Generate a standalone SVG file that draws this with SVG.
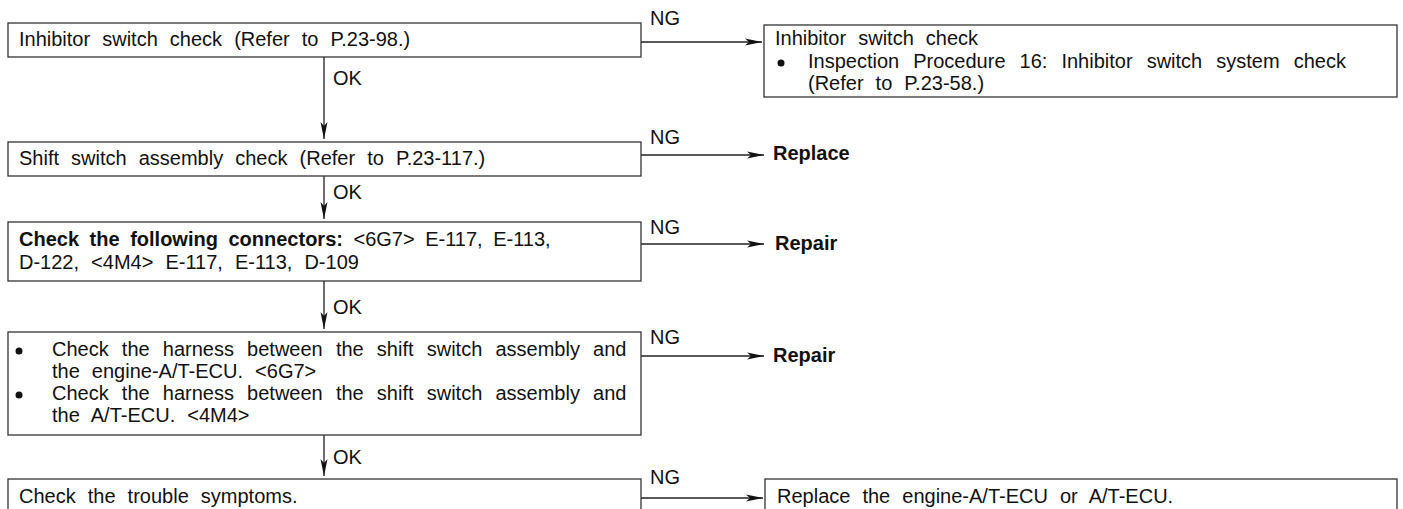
<svg xmlns="http://www.w3.org/2000/svg" width="1403" height="509" viewBox="0 0 1403 509">
<defs>
<marker id="ah" markerWidth="18" markerHeight="10" refX="17" refY="5" orient="auto" markerUnits="userSpaceOnUse">
<path d="M0,1.5 L17,5 L0,8.5 L4,5 Z" fill="#111"/>
</marker>
<style>
.box{fill:#fff;stroke:#333;stroke-width:1.3}
.t{font-family:"Liberation Sans",Arial,sans-serif;font-size:20px;fill:#111;word-spacing:6.5px}
.b{font-weight:bold}
.c{stroke:#222;stroke-width:1.3;fill:none}
.dot{fill:#111}
</style>
</defs>
<rect width="1403" height="509" fill="#fff"/>
<g id="connectors">
<path class="c" d="M324,57 V139" marker-end="url(#ah)"/>
<path class="c" d="M324,176 V219" marker-end="url(#ah)"/>
<path class="c" d="M324,281 V329" marker-end="url(#ah)"/>
<path class="c" d="M324,435 V476" marker-end="url(#ah)"/>
<path class="c" d="M641,42 H762" marker-end="url(#ah)"/>
<path class="c" d="M641,155 H764" marker-end="url(#ah)"/>
<path class="c" d="M641,244 H764" marker-end="url(#ah)"/>
<path class="c" d="M641,356 H764" marker-end="url(#ah)"/>
<path class="c" d="M641,498 H763" marker-end="url(#ah)"/>
<text class="t" x="333" y="85">OK</text>
<text class="t" x="333" y="199">OK</text>
<text class="t" x="333" y="314">OK</text>
<text class="t" x="333" y="464">OK</text>
<text class="t" x="650" y="25">NG</text>
<text class="t" x="650" y="144">NG</text>
<text class="t" x="650" y="234">NG</text>
<text class="t" x="650" y="344">NG</text>
<text class="t" x="650" y="484">NG</text>
</g>
<g id="n1">
<rect class="box" x="8" y="23" width="633" height="34"/>
<text class="t" x="19" y="46">Inhibitor switch check (Refer to P.23-98.)</text>
</g>
<g id="r1">
<rect class="box" x="764" y="25" width="633" height="72"/>
<text class="t" x="775" y="45">Inhibitor switch check</text>
<circle class="dot" cx="781" cy="63" r="3.5"/>
<text class="t" x="808" y="68" style="word-spacing:8.5px">Inspection Procedure 16: Inhibitor switch system check</text>
<text class="t" x="808" y="90">(Refer to P.23-58.)</text>
</g>
<g id="n2">
<rect class="box" x="8" y="142" width="633" height="34"/>
<text class="t" x="19" y="165">Shift switch assembly check (Refer to P.23-117.)</text>
</g>
<g id="r2">
<text class="t b" x="773" y="160">Replace</text>
</g>
<g id="n3">
<rect class="box" x="8" y="222" width="633" height="59"/>
<text class="t" x="19" y="246" style="word-spacing:5px"><tspan class="b">Check the following connectors:</tspan> &lt;6G7&gt; E-117, E-113,</text>
<text class="t" x="19" y="269">D-122, &lt;4M4&gt; E-117, E-113, D-109</text>
</g>
<g id="r3">
<text class="t b" x="775" y="250">Repair</text>
</g>
<g id="n4">
<rect class="box" x="8" y="332" width="633" height="103"/>
<circle class="dot" cx="19" cy="351" r="3.5"/>
<text class="t" x="52" y="356" style="word-spacing:7.6px">Check the harness between the shift switch assembly and</text>
<text class="t" x="52" y="378">the engine-A/T-ECU. &lt;6G7&gt;</text>
<circle class="dot" cx="19" cy="395" r="3.5"/>
<text class="t" x="52" y="400" style="word-spacing:7.6px">Check the harness between the shift switch assembly and</text>
<text class="t" x="52" y="422">the A/T-ECU. &lt;4M4&gt;</text>
</g>
<g id="r4">
<text class="t b" x="773" y="362">Repair</text>
</g>
<g id="n5">
<rect class="box" x="8" y="479" width="633" height="40"/>
<text class="t" x="19" y="503">Check the trouble symptoms.</text>
</g>
<g id="r5">
<rect class="box" x="765" y="479" width="632" height="40"/>
<text class="t" x="777" y="503">Replace the engine-A/T-ECU or A/T-ECU.</text>
</g>
</svg>
